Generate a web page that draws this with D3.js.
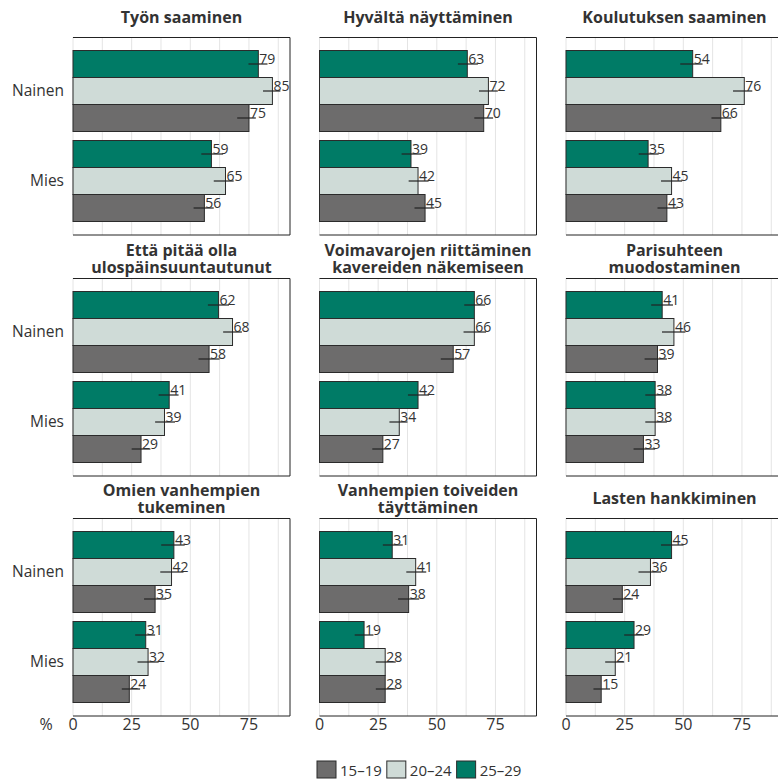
<!DOCTYPE html>
<html>
<head>
<meta charset="utf-8">
<script src="https://cdn.jsdelivr.net/npm/d3@7"></script>
<style>
  body { margin: 0; background: #fff; }
  svg { font-family: "Open Sans", sans-serif; }
</style>
</head>
<body>
<svg id="chart"></svg>
<script>
// chart data
const titles = [
  ["Työn saaminen"],
  ["Hyvältä näyttäminen"],
  ["Koulutuksen saaminen"],
  ["Että pitää olla", "ulospäinsuuntautunut"],
  ["Voimavarojen riittäminen", "kavereiden näkemiseen"],
  ["Parisuhteen", "muodostaminen"],
  ["Omien vanhempien", "tukeminen"],
  ["Vanhempien toiveiden", "täyttäminen"],
  ["Lasten hankkiminen"]
];
const genders = ["Nainen", "Mies"];
const ages = ["25–29", "20–24", "15–19"];
const legendAges = ["15–19", "20–24", "25–29"];
const xTicks = [0, 25, 50, 75];

// values per panel: [Nainen 25-29, 20-24, 15-19, Mies 25-29, 20-24, 15-19]
const values = [
  [79, 85, 75, 59, 65, 56],
  [63, 72, 70, 39, 42, 45],
  [54, 76, 66, 35, 45, 43],
  [62, 68, 58, 41, 39, 29],
  [66, 66, 57, 42, 34, 27],
  [41, 46, 39, 38, 38, 33],
  [43, 42, 35, 31, 32, 24],
  [31, 41, 38, 19, 28, 28],
  [45, 36, 24, 29, 21, 15]
];
// confidence interval lower / upper ends
const ciLow = [
  [74.8, 81.0, 70.0, 54.7, 60.0, 51.4],
  [59.0, 68.0, 66.0, 35.0, 38.0, 40.5],
  [48.7, 71.2, 62.0, 31.0, 40.5, 39.0],
  [57.5, 64.0, 53.5, 36.5, 35.0, 25.0],
  [61.7, 61.4, 51.7, 37.7, 29.8, 22.5],
  [36.3, 40.9, 33.5, 33.8, 33.8, 28.8],
  [37.6, 37.2, 30.3, 26.5, 27.5, 20.8],
  [27.0, 37.0, 33.5, 15.0, 24.0, 24.0],
  [40.5, 30.9, 20.0, 24.8, 16.7, 11.7]
];
const ciHigh = [
  [82.9, 88.4, 78.0, 64.0, 68.5, 60.0],
  [67.5, 76.0, 74.0, 43.5, 46.5, 49.0],
  [58.2, 79.4, 70.5, 39.5, 49.5, 47.5],
  [66.5, 72.0, 62.5, 45.0, 43.5, 33.0],
  [70.6, 71.0, 61.7, 46.7, 37.5, 30.3],
  [45.6, 50.9, 43.0, 43.0, 43.0, 38.0],
  [47.6, 47.1, 39.7, 35.0, 36.5, 28.6],
  [35.5, 45.5, 42.5, 23.0, 32.5, 32.5],
  [50.1, 40.5, 28.5, 33.3, 24.8, 18.8]
];

const colors = { "15–19": "#6d6c6c", "20–24": "#cfdbd7", "25–29": "#007b66" };
const textColor = "#333";

// layout
const width = 778, height = 780;
const colX = [73, 319.5, 566];
const rowY = [37, 278, 518];
const panelW = 217, panelH = 198;

const svg = d3.select("#chart").attr("width", width).attr("height", height);

const x = d3.scaleLinear().domain([0, 92.5]).range([0, panelW]);
const y = d3.scaleBand().domain(genders).range([0, panelH]).paddingInner(0.1).paddingOuter(0.15);
const yAge = d3.scaleBand().domain(ages).range([0, y.bandwidth()]);

titles.forEach((title, p) => {
  const col = p % 3, row = Math.floor(p / 3);
  const g = svg.append("g").attr("transform", `translate(${colX[col]},${rowY[row]})`);

  // grid lines every 12.5
  g.append("g").selectAll("line")
    .data(d3.range(0, 92.5, 12.5))
    .join("line")
    .attr("x1", d => x(d)).attr("x2", d => x(d))
    .attr("y1", 0).attr("y2", panelH)
    .attr("stroke", "#e4e4e4").attr("stroke-width", 1);

  // frame: top, right, bottom
  g.append("path")
    .attr("d", `M0,0.5H${panelW}V${panelH}H0`)
    .attr("fill", "none").attr("stroke", "#222").attr("stroke-width", 1);

  // title, one text per line
  const base = title.length === 1 ? -13.7 : -22.3;
  title.forEach((line, i) => {
    g.append("text")
      .attr("x", panelW / 2)
      .attr("y", base + i * 17)
      .attr("text-anchor", "middle")
      .attr("font-weight", "bold").attr("font-size", "16px")
      .attr("fill", textColor)
      .text(line);
  });

  const rows = [];
  genders.forEach((gname, gi) => ages.forEach((a, ai) => rows.push({
    gender: gname, age: a,
    v: values[p][gi * 3 + ai], lo: ciLow[p][gi * 3 + ai], hi: ciHigh[p][gi * 3 + ai]
  })));

  // bars
  g.selectAll(".bar").data(rows).join("rect")
    .attr("class", "bar")
    .attr("x", 0)
    .attr("y", d => y(d.gender) + yAge(d.age))
    .attr("width", d => x(d.v))
    .attr("height", yAge.bandwidth())
    .attr("fill", d => colors[d.age])
    .attr("stroke", "#2b2b2b").attr("stroke-width", 1);

  // error lines
  g.selectAll(".ci").data(rows).join("line")
    .attr("class", "ci")
    .attr("x1", d => x(d.lo)).attr("x2", d => x(d.hi))
    .attr("y1", d => y(d.gender) + yAge(d.age) + yAge.bandwidth() / 2)
    .attr("y2", d => y(d.gender) + yAge(d.age) + yAge.bandwidth() / 2)
    .attr("stroke", "#222").attr("stroke-width", 1.2);

  // value labels
  g.selectAll(".lbl").data(rows).join("text")
    .attr("class", "lbl")
    .attr("x", d => x(d.v) + 1)
    .attr("y", d => y(d.gender) + yAge(d.age) + yAge.bandwidth() / 2 - 0.5)
    .attr("font-size", "14px").attr("fill", textColor)
    .text(d => d.v);

  // gender labels on the first column
  if (col === 0) {
    g.selectAll(".glbl").data(genders).join("text")
      .attr("class", "glbl")
      .attr("x", -9)
      .attr("y", d => y(d) + y.bandwidth() / 2)
      .attr("dy", "0.35em")
      .attr("text-anchor", "end")
      .attr("font-size", "15.5px").attr("fill", textColor)
      .text(d => d);
  }

  // x axis tick labels on the bottom row
  if (row === 2) {
    g.selectAll(".tick").data(xTicks).join("text")
      .attr("class", "tick")
      .attr("x", d => x(d))
      .attr("y", panelH + 14)
      .attr("text-anchor", "middle")
      .attr("font-size", "16px").attr("fill", textColor)
      .text(d => d);
    if (col === 0) {
      g.append("text")
        .attr("x", -27).attr("y", panelH + 14)
        .attr("text-anchor", "middle")
        .attr("font-size", "16px").attr("fill", textColor)
        .text("%");
    }
  }
});

// legend
const legend = svg.append("g").attr("transform", "translate(317,761)");
let lx = 0;
legendAges.forEach(a => {
  legend.append("rect")
    .attr("x", lx).attr("y", 0)
    .attr("width", 19).attr("height", 17)
    .attr("fill", colors[a]).attr("stroke", "#2b2b2b").attr("stroke-width", 1);
  const txt = legend.append("text")
    .attr("x", lx + 23).attr("y", 15)
    .attr("font-size", "15px").attr("fill", textColor)
    .text(a);
  lx += 23 + txt.node().getComputedTextLength() + 5;
});
</script>
</body>
</html>
